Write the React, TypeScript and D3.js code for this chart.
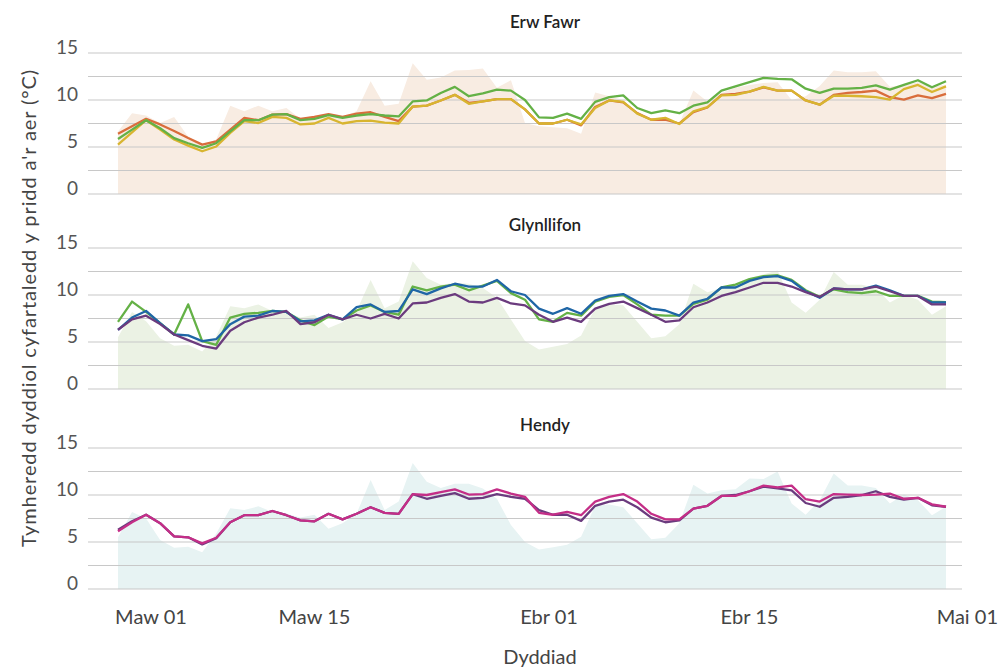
import React from "react";
import * as d3 from "d3";

// daily dates, 1 Mar - 29 Apr
const days = d3.timeDay.range(new Date(2021, 2, 1), new Date(2021, 3, 30));
const tickDates = [
  new Date(2021, 2, 1),
  new Date(2021, 2, 15),
  new Date(2021, 3, 1),
  new Date(2021, 3, 15),
  new Date(2021, 4, 1),
];
const tickLabels = ["Maw 01", "Maw 15", "Ebr 01", "Ebr 15", "Mai 01"];
const yTicks = [0, 5, 10, 15];
const gridValues = [0, 2.5, 5, 7.5, 10, 12.5, 15];

// Erw Fawr
const erwAir = [
  6.65, 8.6, 8.35, 7.55, 8.2, 6.1, 5.25, 5.8, 9.4, 8.8,
  9.4, 8.8, 9.15, 8.0, 8.35, 8.25, 8.2, 8.8, 12.0, 9.4,
  9.6, 13.9, 12.15, 12.4, 13.15, 13.2, 13.35, 11.3, 12.1, 7.55,
  7.2, 7.1, 7.0, 6.4, 10.8, 10.4, 10.0, 8.45, 7.85, 7.9,
  7.5, 11.0, 9.85, 10.75, 11.3, 11.6, 11.8, 11.9, 10.0, 10.4,
  11.5, 13.15, 12.95, 12.95, 13.05, 11.4, 11.6, 11.9, 11.45, 11.6,
];
const erwOrange = [
  6.4, 7.2, 8.0, 7.4, 6.7, 5.95, 5.25, 5.6, 6.85, 8.1,
  7.85, 8.45, 8.5, 8.0, 8.2, 8.5, 8.2, 8.55, 8.7, 8.2,
  7.75, 9.3, 9.4, 9.95, 10.55, 9.7, 9.85, 10.1, 10.1, 9.0,
  7.5, 7.5, 7.9, 7.3, 9.25, 9.95, 9.75, 8.6, 7.9, 7.9,
  7.5, 8.7, 9.2, 10.55, 10.65, 10.9, 11.35, 11.0, 11.0, 9.95,
  9.5, 10.55, 10.75, 10.85, 11.0, 10.3, 10.05, 10.5, 10.2, 10.65,
];
const erwYellow = [
  5.25, 6.55, 7.85, 6.85, 5.8, 5.15, 4.55, 5.05, 6.5, 7.75,
  7.55, 8.2, 8.1, 7.4, 7.5, 8.1, 7.5, 7.75, 7.8, 7.6,
  7.5, 9.3, 9.4, 9.95, 10.55, 9.6, 9.85, 10.1, 10.1, 9.0,
  7.5, 7.5, 7.9, 7.4, 9.15, 9.95, 9.8, 8.55, 7.9, 8.1,
  7.45, 8.8, 9.25, 10.5, 10.55, 10.9, 11.4, 11.0, 11.0, 9.95,
  9.5, 10.45, 10.45, 10.4, 10.3, 10.05, 11.15, 11.6, 10.85, 11.45,
];
const erwGreen = [
  5.85, 6.85, 7.85, 7.0, 5.95, 5.4, 4.9, 5.4, 6.65, 7.85,
  7.85, 8.45, 8.5, 7.85, 8.0, 8.4, 8.1, 8.35, 8.5, 8.35,
  8.25, 9.85, 9.95, 10.75, 11.4, 10.4, 10.7, 11.1, 11.0, 10.0,
  8.15, 8.1, 8.55, 8.0, 9.8, 10.3, 10.5, 9.15, 8.6, 8.9,
  8.6, 9.4, 9.75, 11.0, 11.45, 11.9, 12.35, 12.25, 12.2, 11.2,
  10.75, 11.2, 11.2, 11.3, 11.55, 11.1, 11.6, 12.1, 11.35, 12.0,
];

// Glynllifon
const glynAir = [
  5.5, 8.2, 7.2, 5.4, 4.6, 4.7, 4.0, 5.6, 8.8, 8.6,
  9.0, 8.3, 8.2, 7.6, 7.9, 6.5, 7.1, 8.3, 11.6, 8.6,
  9.3, 13.6, 11.8, 11.1, 11.3, 11.2, 10.75, 9.7, 7.4, 5.1,
  4.2, 4.5, 4.8, 5.7, 8.6, 9.0, 8.9, 7.15, 5.4, 5.6,
  6.9, 11.2, 10.3, 10.75, 11.2, 11.8, 12.2, 12.6, 9.2, 8.1,
  9.5, 12.45, 11.1, 11.1, 10.75, 9.2, 10.0, 9.5, 7.9, 8.8,
];
const glynGreen = [
  7.15, 9.3, 8.2, 7.0, 5.8, 9.0, 5.1, 4.7, 7.6, 8.0,
  8.1, 8.3, 8.2, 7.3, 6.8, 7.7, 7.4, 8.35, 8.9, 8.2,
  7.9, 10.9, 10.5, 10.9, 11.1, 10.5, 11.0, 11.5, 10.2, 9.5,
  7.4, 7.15, 8.1, 7.8, 9.3, 9.8, 10.0, 9.0, 7.9, 7.8,
  7.8, 9.05, 9.5, 10.8, 11.1, 11.7, 12.0, 12.1, 11.6, 10.5,
  9.8, 10.6, 10.3, 10.2, 10.4, 9.9, 9.9, 9.9, 9.3, 9.25,
];
const glynBlue = [
  6.3, 7.6, 8.3, 7.0, 5.8, 5.7, 5.1, 5.3, 6.9, 7.7,
  7.8, 8.3, 8.2, 7.2, 7.3, 7.9, 7.4, 8.7, 9.0, 8.2,
  8.3, 10.6, 10.1, 10.7, 11.2, 10.9, 10.9, 11.6, 10.4, 10.0,
  8.55, 8.0, 8.6, 8.0, 9.4, 9.9, 10.1, 9.3, 8.55, 8.35,
  7.8, 9.2, 9.6, 10.8, 10.8, 11.5, 11.9, 12.0, 11.5, 10.4,
  9.7, 10.7, 10.6, 10.6, 11.0, 10.5, 9.9, 9.9, 9.2, 9.2,
];
const glynPurple = [
  6.3, 7.4, 7.8, 6.9, 5.8, 5.2, 4.6, 4.3, 6.2, 7.1,
  7.6, 7.9, 8.3, 6.9, 7.1, 7.9, 7.4, 7.9, 7.5, 8.0,
  7.5, 9.1, 9.2, 9.7, 10.1, 9.3, 9.2, 9.7, 9.1, 8.9,
  7.9, 7.15, 7.6, 7.15, 8.55, 9.05, 9.3, 8.6, 7.9, 7.15,
  7.3, 8.7, 9.2, 9.9, 10.3, 10.8, 11.3, 11.3, 10.9, 10.3,
  9.8, 10.7, 10.6, 10.6, 10.9, 10.4, 9.9, 9.9, 9.0, 9.0,
];

// Hendy
const hendyAir = [
  5.5, 8.2, 7.5, 5.2, 4.4, 4.5, 3.9, 5.9, 8.6, 8.4,
  8.8, 8.2, 8.0, 7.6, 7.9, 6.4, 7.0, 8.0, 11.6, 8.4,
  9.3, 13.4, 11.4, 10.75, 11.2, 11.2, 10.7, 9.6, 6.8, 5.0,
  4.2, 4.45, 4.7, 5.55, 8.85, 9.0, 8.7, 7.0, 5.3, 5.45,
  7.0, 11.1, 10.15, 10.5, 10.6, 11.75, 11.7, 12.5, 9.1, 7.9,
  9.45, 12.3, 11.0, 11.0, 10.75, 9.1, 10.05, 9.45, 7.85, 8.75,
];
const hendyPurple = [
  6.3, 7.2, 7.9, 7.0, 5.6, 5.5, 4.75, 5.4, 7.1, 7.85,
  7.85, 8.3, 7.85, 7.3, 7.2, 8.0, 7.4, 8.0, 8.7, 8.1,
  8.0, 10.1, 9.6, 9.9, 10.2, 9.6, 9.7, 10.1, 9.8, 9.6,
  8.4, 7.9, 7.9, 7.25, 8.85, 9.3, 9.5, 8.7, 7.6, 7.1,
  7.3, 8.55, 8.85, 9.9, 10.0, 10.4, 10.9, 10.7, 10.5, 9.15,
  8.75, 9.7, 9.8, 10.0, 10.4, 9.8, 9.5, 9.7, 8.9, 8.75,
];
const hendyPink = [
  6.15, 7.1, 7.9, 7.0, 5.6, 5.5, 4.85, 5.45, 7.1, 7.85,
  7.85, 8.3, 7.85, 7.3, 7.2, 8.0, 7.4, 8.0, 8.7, 8.1,
  8.0, 10.1, 10.0, 10.3, 10.6, 10.05, 10.1, 10.6, 10.15, 9.8,
  8.1, 7.9, 8.2, 7.85, 9.3, 9.8, 10.1, 9.3, 8.0, 7.4,
  7.4, 8.55, 8.85, 9.9, 9.9, 10.4, 11.0, 10.8, 11.0, 9.55,
  9.3, 10.1, 10.05, 10.0, 10.05, 10.15, 9.6, 9.7, 9.0, 8.75,
];

const panels = [
  {
    title: "Erw Fawr",
    top: 53,
    titleGap: 25,
    air: erwAir,
    fill: "#f8ece2",
    series: [
      { values: erwOrange, color: "#d96d3c" },
      { values: erwYellow, color: "#d8b530" },
      { values: erwGreen, color: "#64b146" },
    ],
  },
  {
    title: "Glynllifon",
    top: 248,
    titleGap: 17,
    air: glynAir,
    fill: "#ebf2e4",
    series: [
      { values: glynGreen, color: "#64b146" },
      { values: glynBlue, color: "#1f66a6" },
      { values: glynPurple, color: "#6b3b7e" },
    ],
  },
  {
    title: "Hendy",
    top: 448,
    titleGap: 17,
    air: hendyAir,
    fill: "#e7f3f3",
    series: [
      { values: hendyPurple, color: "#6b3b7e" },
      { values: hendyPink, color: "#c42e87" },
    ],
  },
];

const W = 999;
const H = 669;
const panelH = 141;
const gridLeft = 88;
const gridRight = 962;
const font = "Lato, 'Open Sans', sans-serif";
// small nudges so the first/last date labels stay inside the frame
const labelShift = [33, 0, -4, 0, -5];

const x = d3
  .scaleTime()
  .domain([days[0], days[days.length - 1]])
  .range([118, 946]);

export default function App() {
  return (
    <svg
      width={W}
      height={H}
      style={{ position: "absolute", left: 0, top: 0, background: "#fff" }}
    >
      {panels.map((p) => {
        const y = d3.scaleLinear().domain([0, 15]).range([p.top + panelH, p.top]);
        const area = d3
          .area<number>()
          .x((d, i) => x(days[i]))
          .y0(y(0))
          .y1((d) => y(d));
        const line = d3
          .line<number>()
          .x((d, i) => x(days[i]))
          .y((d) => y(d));
        return (
          <g key={p.title}>
            <text
              x={545}
              y={p.top - p.titleGap}
              textAnchor="middle"
              fontFamily={font}
              fontSize={17}
              fontWeight={600}
              fill="#222"
            >
              {p.title}
            </text>
            <path d={area(p.air) || ""} fill={p.fill} />
            {gridValues.map((g) => (
              <line
                key={g}
                x1={gridLeft}
                x2={gridRight}
                y1={y(g)}
                y2={y(g)}
                stroke="#c8c8c8"
                strokeWidth={1.2}
              />
            ))}
            {yTicks.map((t) => (
              <text
                key={t}
                x={78}
                y={y(t) + 1}
                textAnchor="end"
                fontFamily={font}
                fontSize={19}
                fill="#555"
              >
                {t}
              </text>
            ))}
            {p.series.map((s, k) => (
              <path
                key={k}
                d={line(s.values) || ""}
                fill="none"
                stroke={s.color}
                strokeWidth={2.3}
                strokeLinejoin="round"
              />
            ))}
          </g>
        );
      })}
      {tickDates.map((d, i) => (
        <text
          key={tickLabels[i]}
          x={i === tickDates.length - 1 ? W - 1 : x(d) + labelShift[i]}
          y={624}
          textAnchor={i === tickDates.length - 1 ? "end" : "middle"}
          fontFamily={font}
          fontSize={20}
          fill="#444"
        >
          {tickLabels[i]}
        </text>
      ))}
      <text
        x={540}
        y={664}
        textAnchor="middle"
        fontFamily={font}
        fontSize={20}
        fill="#444"
      >
        Dyddiad
      </text>
      <text
        transform="translate(36,308) rotate(-90)"
        textAnchor="middle"
        fontFamily={font}
        fontSize={20}
        letterSpacing={0.9}
        fill="#444"
      >
        Tymheredd dyddiol cyfartaledd y pridd a'r aer (°C)
      </text>
    </svg>
  );
}
